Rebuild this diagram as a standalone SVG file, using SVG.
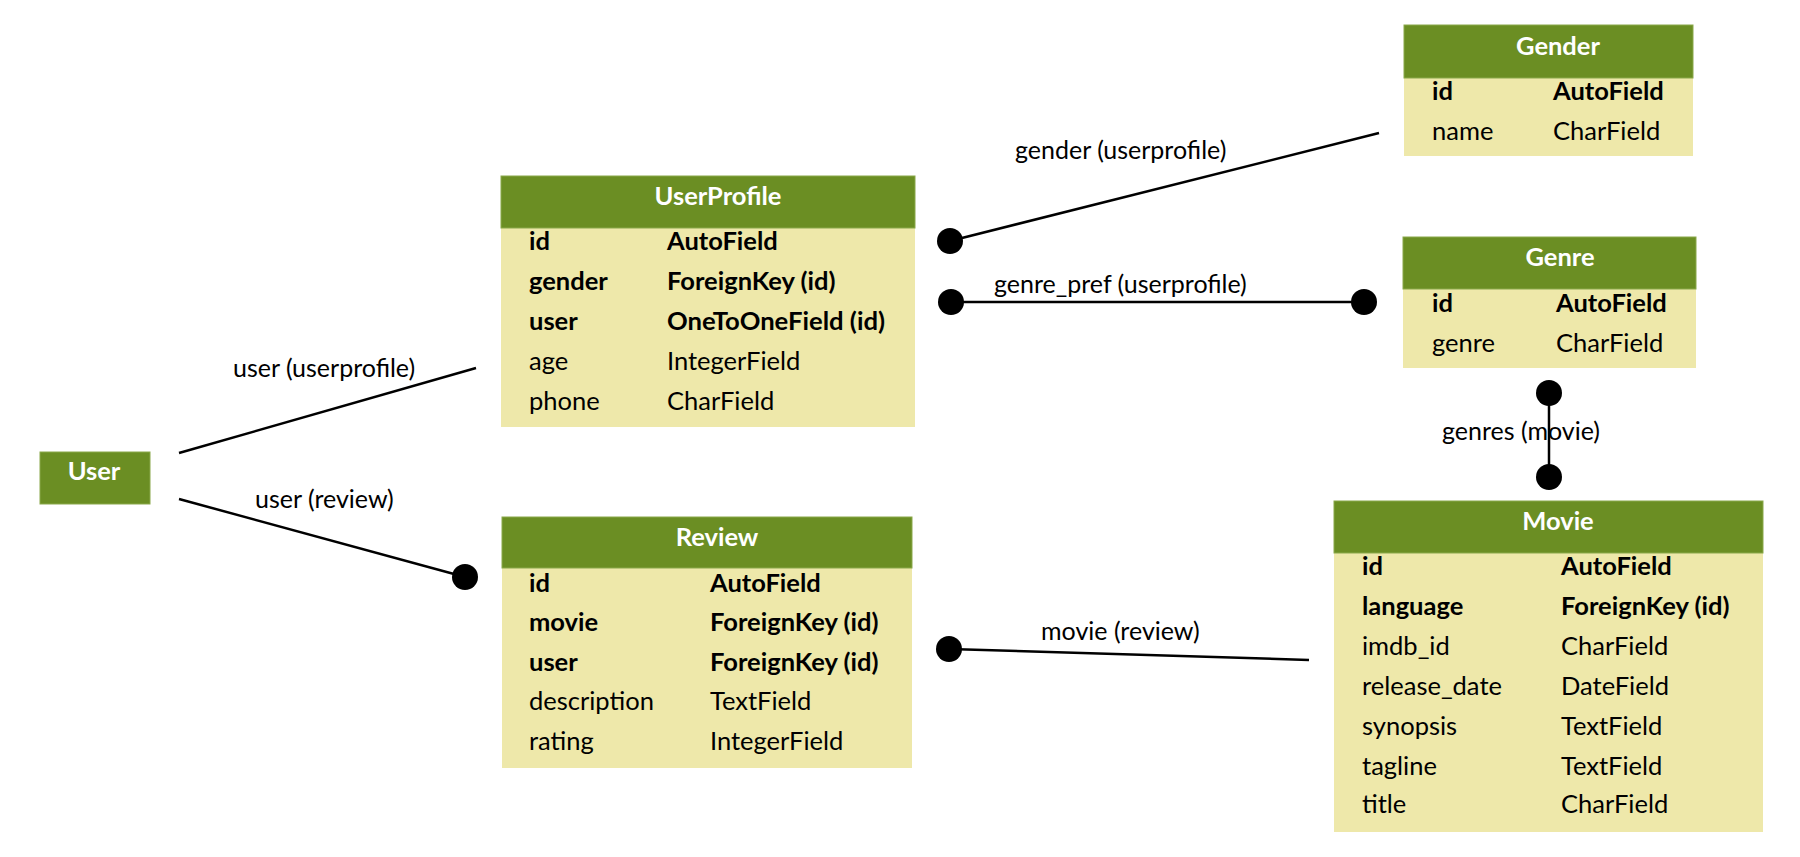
<svg xmlns="http://www.w3.org/2000/svg" width="1800" height="857" viewBox="0 0 1800 857">
<style>
.hd{fill:#6B8E23;stroke:#8aa84a;stroke-width:1}
.bd{fill:#EEE8AA}
.tt{font-family:Lato,"Liberation Sans",sans-serif;font-size:25.5px;font-weight:bold;fill:#fff;text-anchor:middle}
.f{font-family:Lato,"Liberation Sans",sans-serif;font-size:25.5px;fill:#000}
.b{font-weight:bold}
.lb{font-family:Lato,"Liberation Sans",sans-serif;font-size:25px;fill:#000}
.ln{stroke:#000;stroke-width:2.5;fill:none}
.dt{fill:#000}
</style>
<rect width="1800" height="857" fill="#fff"/>
<g id="connectors">
<line class="ln" x1="179" y1="453" x2="476" y2="368"/>
<text class="lb" x="233" y="377">user (userprofile)</text>
<line class="ln" x1="179" y1="499" x2="465" y2="577"/>
<circle class="dt" cx="465" cy="577" r="13"/>
<text class="lb" x="255" y="508">user (review)</text>
<line class="ln" x1="950" y1="241" x2="1379" y2="133"/>
<circle class="dt" cx="950" cy="241" r="13"/>
<text class="lb" x="1015" y="159">gender (userprofile)</text>
<line class="ln" x1="951" y1="302" x2="1364" y2="302"/>
<circle class="dt" cx="951" cy="302" r="13"/>
<circle class="dt" cx="1364" cy="302" r="13"/>
<text class="lb" x="994" y="293">genre_pref (userprofile)</text>
<line class="ln" x1="1549" y1="393" x2="1549" y2="477"/>
<circle class="dt" cx="1549" cy="393" r="13"/>
<circle class="dt" cx="1549" cy="477" r="13"/>
<text class="lb" x="1442" y="440">genres (movie)</text>
<line class="ln" x1="949" y1="649" x2="1309" y2="660"/>
<circle class="dt" cx="949" cy="649" r="13"/>
<text class="lb" x="1041" y="640">movie (review)</text>
</g>
<g id="User">
<rect class="hd" x="40" y="452" width="110" height="52"/>
<text class="tt" x="94" y="480">User</text>
</g>
<g id="UserProfile">
<rect class="bd" x="501" y="228" width="414" height="199"/>
<rect class="hd" x="501" y="176" width="414" height="52"/>
<text class="tt" x="718" y="205">UserProfile</text>
<text class="f b" x="529" y="250">id</text><text class="f b" x="667" y="250">AutoField</text>
<text class="f b" x="529" y="290">gender</text><text class="f b" x="667" y="290">ForeignKey (id)</text>
<text class="f b" x="529" y="330">user</text><text class="f b" x="667" y="330" textLength="218" lengthAdjust="spacingAndGlyphs">OneToOneField (id)</text>
<text class="f" x="529" y="370">age</text><text class="f" x="667" y="370">IntegerField</text>
<text class="f" x="529" y="410">phone</text><text class="f" x="667" y="410">CharField</text>
</g>
<g id="Review">
<rect class="bd" x="502" y="568" width="410" height="200"/>
<rect class="hd" x="502" y="517" width="410" height="51"/>
<text class="tt" x="717" y="546">Review</text>
<text class="f b" x="529" y="592">id</text><text class="f b" x="710" y="592">AutoField</text>
<text class="f b" x="529" y="631">movie</text><text class="f b" x="710" y="631">ForeignKey (id)</text>
<text class="f b" x="529" y="671">user</text><text class="f b" x="710" y="671">ForeignKey (id)</text>
<text class="f" x="529" y="710">description</text><text class="f" x="710" y="710">TextField</text>
<text class="f" x="529" y="750">rating</text><text class="f" x="710" y="750">IntegerField</text>
</g>
<g id="Gender">
<rect class="bd" x="1404" y="78" width="289" height="78"/>
<rect class="hd" x="1404" y="25" width="289" height="53"/>
<text class="tt" x="1558" y="55">Gender</text>
<text class="f b" x="1432" y="100">id</text><text class="f b" x="1553" y="100">AutoField</text>
<text class="f" x="1432" y="140">name</text><text class="f" x="1553" y="140">CharField</text>
</g>
<g id="Genre">
<rect class="bd" x="1403" y="289" width="293" height="79"/>
<rect class="hd" x="1403" y="237" width="293" height="52"/>
<text class="tt" x="1560" y="266">Genre</text>
<text class="f b" x="1432" y="312">id</text><text class="f b" x="1556" y="312">AutoField</text>
<text class="f" x="1432" y="352">genre</text><text class="f" x="1556" y="352">CharField</text>
</g>
<g id="Movie">
<rect class="bd" x="1334" y="553" width="429" height="279"/>
<rect class="hd" x="1334" y="501" width="429" height="52"/>
<text class="tt" x="1558" y="530">Movie</text>
<text class="f b" x="1362" y="575">id</text><text class="f b" x="1561" y="575">AutoField</text>
<text class="f b" x="1362" y="615">language</text><text class="f b" x="1561" y="615">ForeignKey (id)</text>
<text class="f" x="1362" y="655">imdb_id</text><text class="f" x="1561" y="655">CharField</text>
<text class="f" x="1362" y="695">release_date</text><text class="f" x="1561" y="695">DateField</text>
<text class="f" x="1362" y="735">synopsis</text><text class="f" x="1561" y="735">TextField</text>
<text class="f" x="1362" y="775">tagline</text><text class="f" x="1561" y="775">TextField</text>
<text class="f" x="1362" y="813">title</text><text class="f" x="1561" y="813">CharField</text>
</g>
</svg>
